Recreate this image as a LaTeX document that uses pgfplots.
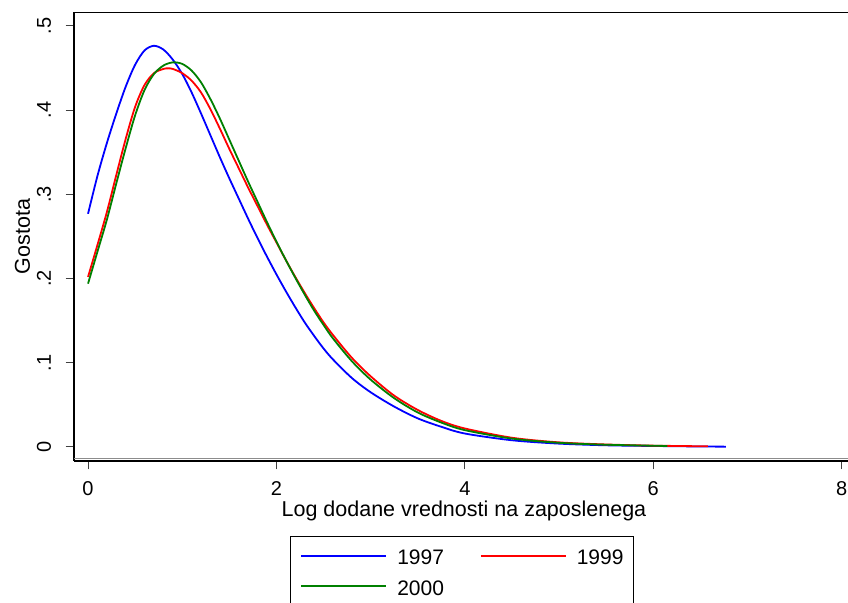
\documentclass[border=0pt]{standalone}
\usepackage{fontspec}
\setmainfont{Liberation Sans}
\usepackage{pgfplots}
\pgfplotsset{compat=1.18}
\definecolor{sgreen}{RGB}{0,128,0}
\begin{document}
\begin{tikzpicture}
\useasboundingbox (0,0) rectangle (848pt,602pt);
\clip (0,0) rectangle (848pt,602pt);
\begin{axis}[
  at={(74pt,141pt)}, anchor=south west,
  x=94.2pt, y=842pt,
  xmin=-0.149, xmax=8.13, ymin=-0.01663, ymax=0.5166,
  axis x line*=bottom, axis y line*=left,
  axis line style={black, line width=1.2pt},
  /pgf/number format/assume math mode=true,
  tick align=outside,
  xtick={0,2,4,6,8},
  ytick={0,0.1,0.2,0.3,0.4,0.5},
  yticklabels={0,.1,.2,.3,.4,.5},
  major tick length=8.5pt,
  tick style={black!75, line width=1pt},
  ticklabel style={font=\fontsize{20}{24}\selectfont},
  yticklabel style={rotate=90, anchor=south, yshift=11pt},
  xticklabel style={anchor=north, yshift=-9pt},
  label style={font=\fontsize{21.5}{25}\selectfont},
  xlabel={Log dodane vrednosti na zaposlenega},
  ylabel={Gostota},
  xlabel style={at={(axis description cs:0.5,-0.124)}, anchor=base},
  ylabel style={at={(axis description cs:-0.0565,0.5)}, anchor=base},
  legend columns=2,
  legend style={
    at={(axis description cs:0.2769,-0.1664)}, anchor=north west,
    draw=black, line width=1pt,
    inner xsep=10pt, inner ysep=13.5pt,
    font=\fontsize{21}{25}\selectfont,
    row sep=15.3pt,
    nodes={inner sep=0pt, text height=15pt, text depth=0pt},
    /tikz/every odd column/.append style={column sep=10pt},
    /tikz/every even column/.append style={column sep=36pt},
  },
  legend cell align=left,
  legend image code/.code={\draw[#1] (0pt,1.5pt) -- (85pt,1.5pt);},
  every axis plot/.append style={line width=1.8pt, smooth},
]
\addplot[blue] coordinates {
(0,0.277) (0.1,0.322) (0.2,0.361) (0.3,0.396) (0.4,0.428) (0.5,0.454) (0.6,0.471) (0.7,0.4765)
(0.8,0.472) (0.9,0.460) (1.0,0.443) (1.1,0.421) (1.2,0.396) (1.3,0.370) (1.4,0.344) (1.5,0.319)
(1.6,0.295) (1.7,0.271) (1.8,0.248) (1.9,0.226) (2.0,0.205) (2.1,0.185) (2.2,0.166) (2.3,0.148)
(2.4,0.132) (2.5,0.117) (2.6,0.104) (2.8,0.082) (3.0,0.065) (3.25,0.048) (3.5,0.034) (3.75,0.024)
(4.0,0.016) (4.5,0.008) (5.0,0.004) (5.5,0.002) (6.0,0.0012) (6.5,0.0006) (6.77,0.0004)
};
\addlegendentry{1997}
\addplot[red] coordinates {
(0,0.202) (0.1,0.240) (0.2,0.279) (0.3,0.323) (0.4,0.366) (0.5,0.404) (0.6,0.430) (0.7,0.444)
(0.8,0.449) (0.85,0.4497) (0.9,0.449) (1.0,0.444) (1.1,0.435) (1.2,0.421) (1.3,0.401) (1.4,0.378)
(1.5,0.354) (1.6,0.331) (1.7,0.308) (1.8,0.286) (1.9,0.264) (2.0,0.243) (2.1,0.222) (2.2,0.202)
(2.3,0.183) (2.4,0.165) (2.5,0.148) (2.6,0.133) (2.8,0.106) (3.0,0.084) (3.25,0.061) (3.5,0.044)
(3.75,0.031) (4.0,0.022) (4.5,0.011) (5.0,0.0055) (5.5,0.003) (6.0,0.0016) (6.58,0.0008)
};
\addlegendentry{1999}
\addplot[sgreen] coordinates {
(0,0.194) (0.1,0.232) (0.2,0.270) (0.3,0.313) (0.4,0.355) (0.5,0.394) (0.6,0.424) (0.7,0.443)
(0.8,0.453) (0.9,0.4568) (1.0,0.455) (1.1,0.447) (1.2,0.433) (1.3,0.413) (1.4,0.390) (1.5,0.365)
(1.6,0.340) (1.7,0.315) (1.8,0.291) (1.9,0.267) (2.0,0.244) (2.1,0.222) (2.2,0.201) (2.3,0.181)
(2.4,0.162) (2.5,0.145) (2.6,0.129) (2.8,0.102) (3.0,0.080) (3.25,0.058) (3.5,0.041) (3.75,0.029)
(4.0,0.020) (4.5,0.010) (5.0,0.005) (5.5,0.0027) (6.15,0.0012)
};
\addlegendentry{2000}
\draw[black!45, line width=1pt] ([yshift=2pt]rel axis cs:0,0) -- ([yshift=2pt]rel axis cs:1,0);
\draw[black, line width=1.2pt] (rel axis cs:0,1) -- (rel axis cs:1,1);
\end{axis}
\end{tikzpicture}
\end{document}
